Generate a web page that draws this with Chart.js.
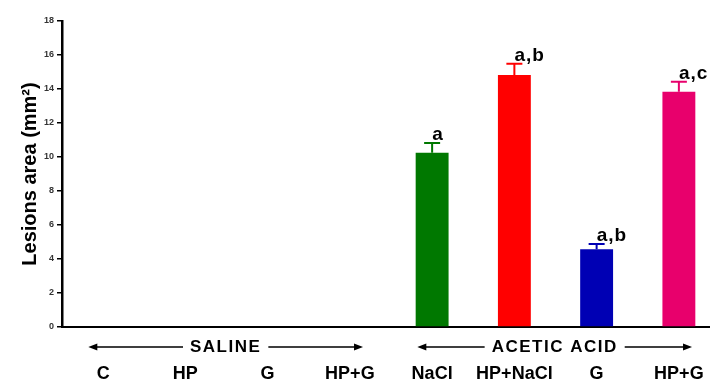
<!DOCTYPE html>
<html>
<head>
<meta charset="utf-8">
<style>
  html, body { margin: 0; padding: 0; background: #fff; overflow: hidden; }
  #wrap { width: 710px; height: 381px; overflow: hidden; }
</style>
</head>
<body>
<div id="wrap"><canvas id="myChart" width="720" height="381" style="width:720px;height:381px"></canvas></div>
<script src="https://cdn.jsdelivr.net/npm/chart.js"></script>
<script>
// data
const categories = ['C', 'HP', 'G', 'HP+G', 'NaCl', 'HP+NaCl', 'G', 'HP+G'];
const lesionArea = [0, 0, 0, 0, 10.25, 14.82, 4.57, 13.84];
const lesionSem = [0, 0, 0, 0, 0.57, 0.67, 0.31, 0.59];
const significance = ['', '', '', '', 'a', 'a,b', 'a,b', 'a,c'];
const barColors = ['#000', '#000', '#000', '#000', '#007800', '#ff0000', '#0000b4', '#e8006c'];
const groupNames = ['SALINE', 'ACETIC ACID'];
const groupStart = [0, 4];
const groupEnd = [3, 7];
const yMin = 0, yMax = 18, yStep = 2;

Chart.defaults.font.family = "Arial, 'Liberation Sans', sans-serif";

// upper error bars + significance letters
const errorBars = {
  id: 'errorBars',
  afterDatasetsDraw(chart) {
    const ctx = chart.ctx;
    const y = chart.scales.y;
    const meta = chart.getDatasetMeta(0);
    ctx.save();
    meta.data.forEach((bar, i) => {
      if (!lesionArea[i]) return;
      const top = y.getPixelForValue(lesionArea[i]);
      const cap = y.getPixelForValue(lesionArea[i] + lesionSem[i]);
      ctx.strokeStyle = barColors[i];
      ctx.lineWidth = 2;
      ctx.beginPath();
      ctx.moveTo(bar.x, top);
      ctx.lineTo(bar.x, cap);
      ctx.moveTo(bar.x - 8, cap);
      ctx.lineTo(bar.x + 8, cap);
      ctx.stroke();
      ctx.fillStyle = '#000';
      ctx.font = "bold 19px Arial, 'Liberation Sans', sans-serif";
      ctx.letterSpacing = '1px';
      ctx.textAlign = 'left';
      ctx.textBaseline = 'alphabetic';
      ctx.fillText(significance[i], bar.x, cap - 3);
    });
    ctx.restore();
  }
};

// SALINE / ACETIC ACID arrows under the axis
const groupArrows = {
  id: 'groupArrows',
  afterDraw(chart) {
    const ctx = chart.ctx;
    const x = chart.scales.x;
    const yy = 347;
    ctx.save();
    ctx.font = "bold 17px Arial, 'Liberation Sans', sans-serif";
    ctx.letterSpacing = '1.5px';
    ctx.textAlign = 'center';
    ctx.textBaseline = 'middle';
    ctx.fillStyle = '#000';
    ctx.strokeStyle = '#000';
    ctx.lineWidth = 1.5;
    groupNames.forEach((name, g) => {
      const xl = x.getPixelForValue(groupStart[g] - 0.18);
      const xr = x.getPixelForValue(groupEnd[g] + 0.16);
      const mid = (xl + xr) / 2;
      const w = ctx.measureText(name).width;
      ctx.fillText(name, mid, yy);
      ctx.beginPath();
      ctx.moveTo(xl + 4, yy);
      ctx.lineTo(mid - w / 2 - 7, yy);
      ctx.moveTo(mid + w / 2 + 7, yy);
      ctx.lineTo(xr - 4, yy);
      ctx.stroke();
      ctx.beginPath();
      ctx.moveTo(xl, yy);
      ctx.lineTo(xl + 9, yy - 3.5);
      ctx.lineTo(xl + 9, yy + 3.5);
      ctx.closePath();
      ctx.moveTo(xr, yy);
      ctx.lineTo(xr - 9, yy - 3.5);
      ctx.lineTo(xr - 9, yy + 3.5);
      ctx.closePath();
      ctx.fill();
    });
    ctx.restore();
  }
};

new Chart(document.getElementById('myChart').getContext('2d'), {
  type: 'bar',
  data: {
    labels: categories,
    datasets: [{
      data: lesionArea,
      backgroundColor: barColors,
      borderWidth: 0,
      barPercentage: 0.4,
      categoryPercentage: 1
    }]
  },
  options: {
    responsive: false,
    animation: false,
    layout: { padding: { top: 21, left: 0, right: 0, bottom: 0 } },
    plugins: { legend: { display: false }, tooltip: { enabled: false } },
    scales: {
      x: {
        grid: { display: false, drawTicks: true, tickLength: 34 },
        border: { display: true, color: '#000', width: 2 },
        ticks: {
          color: '#000',
          font: { size: 18, weight: 'bold' },
          padding: 2,
          maxRotation: 0,
          autoSkip: false
        },
        afterFit: s => { s.height = 54; }
      },
      y: {
        min: yMin,
        max: yMax,
        grid: { drawOnChartArea: false, drawTicks: true, tickLength: 5, color: '#000', lineWidth: 1.5 },
        border: { display: true, color: '#000', width: 2.5 },
        ticks: {
          stepSize: yStep,
          color: '#333',
          font: { size: 9, weight: 'bold' },
          padding: 3
        },
        title: {
          display: true,
          text: 'Lesions area (mm²)',
          color: '#000',
          font: { size: 20, weight: 'bold' },
          padding: { top: 18, bottom: 0 }
        },
        afterFit: s => { s.width = 62; }
      }
    }
  },
  plugins: [errorBars, groupArrows]
});
</script>
</body>
</html>
